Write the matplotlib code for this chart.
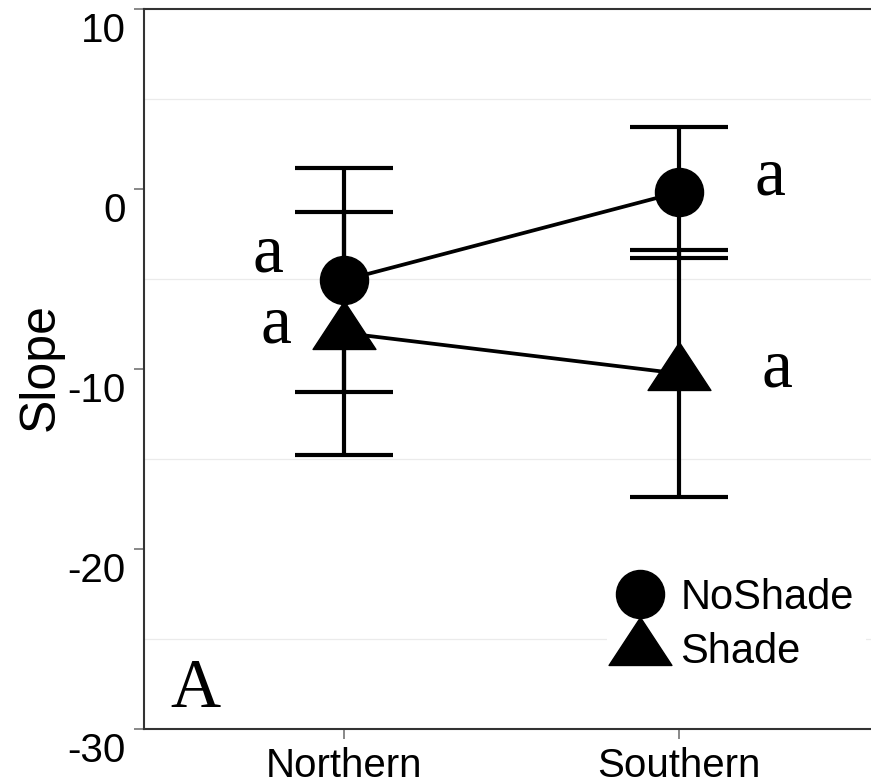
import numpy as np
import matplotlib
matplotlib.use('Agg')
import matplotlib.pyplot as plt
import matplotlib.transforms as mtransforms
from matplotlib.path import Path
from matplotlib.ticker import FixedLocator

plt.rcParams['axes.unicode_minus'] = False

# 各组斜率均值及误差
regions = ['Northern', 'Southern']
noshade_mean = [-5.06, -0.18]
noshade_err = [6.24, 3.64]
shade_mean = [-8.0, -10.25]
shade_err = [6.75, 6.85]

# 显著性字母 (x, y, 文本)
letters = [(0.772, -4.59, 'a'), (0.796, -8.52, 'a'),
           (2.275, -0.33, 'a'), (2.296, -10.98, 'a')]
panel_tag = 'A'

W, H = 871, 784
fig = plt.figure(figsize=(W / 100, H / 100), dpi=100)
ax = fig.add_axes([144 / W, 55 / H, 735 / W, 720 / H])

x = np.arange(1, len(regions) + 1)

# 三角形标记, 中心在重心
tri = Path([(-31.5, -16), (31.5, -16), (0, 32), (-31.5, -16)],
           [Path.MOVETO, Path.LINETO, Path.LINETO, Path.CLOSEPOLY])

err_kw = dict(fmt='none', ecolor='black', elinewidth=3.0, capsize=35.6, capthick=3.0, zorder=2)
ax.errorbar(x, noshade_mean, yerr=noshade_err, **err_kw)
ax.errorbar(x, shade_mean, yerr=shade_err, **err_kw)

ax.plot(x, noshade_mean, color='black', lw=2.7, zorder=3)
ax.plot(x, shade_mean, color='black', lw=2.7, zorder=3)
ax.plot(x, noshade_mean, ls='none', marker='o', ms=34.6, color='black', zorder=4, label='NoShade')
ax.plot(x, shade_mean, ls='none', marker=tri, ms=46, color='black', zorder=4, label='Shade')

for lx, ly, s in letters:
    ax.text(lx, ly, s, fontsize=50, family='Liberation Serif', ha='center', va='baseline')
ax.text(0.554, -28.8, panel_tag, fontsize=50, family='Liberation Serif', ha='center', va='baseline')

ax.set_xlim(0.4, 2.6)
ax.set_ylim(-30, 10)
ax.set_xticks(x)
ax.set_xticklabels(regions)
ax.set_yticks([-30, -20, -10, 0, 10])
ax.yaxis.set_minor_locator(FixedLocator([-25, -15, -5, 5]))
ax.grid(which='minor', axis='y', color='#ebebeb', lw=0.9, zorder=0)
ax.set_axisbelow(True)

ax.tick_params(axis='both', which='major', length=7, width=1.3, color='#7f7f7f',
               labelsize=29, labelcolor='black', pad=6)
ax.tick_params(axis='y', which='minor', length=0)
for lab in ax.get_xticklabels() + ax.get_yticklabels():
    lab.set_family('Liberation Sans')

# y 轴刻度标签整体下移
shift = mtransforms.ScaledTranslation(0, -13 / 72, fig.dpi_scale_trans)
for lab in ax.get_yticklabels():
    lab.set_transform(lab.get_transform() + shift)

for side in ['left', 'bottom', 'top', 'right']:
    ax.spines[side].set_color('#333333')
    ax.spines[side].set_linewidth(1.5)

ax.set_ylabel('Slope', fontsize=36, family='Liberation Sans')
ax.yaxis.set_label_coords(-0.109, 0.503)

leg = ax.legend(loc='center left', bbox_to_anchor=(586 / W, 1 - 625 / H),
                bbox_transform=fig.transFigure, frameon=True, facecolor='white',
                edgecolor='none', framealpha=1, fancybox=False,
                prop={'family': 'Liberation Sans', 'size': 30},
                handlelength=1.0, handletextpad=0.46, labelspacing=0.34,
                borderpad=0.3, markerscale=1.0)

fig.savefig('out.png', dpi=100, facecolor='white')
